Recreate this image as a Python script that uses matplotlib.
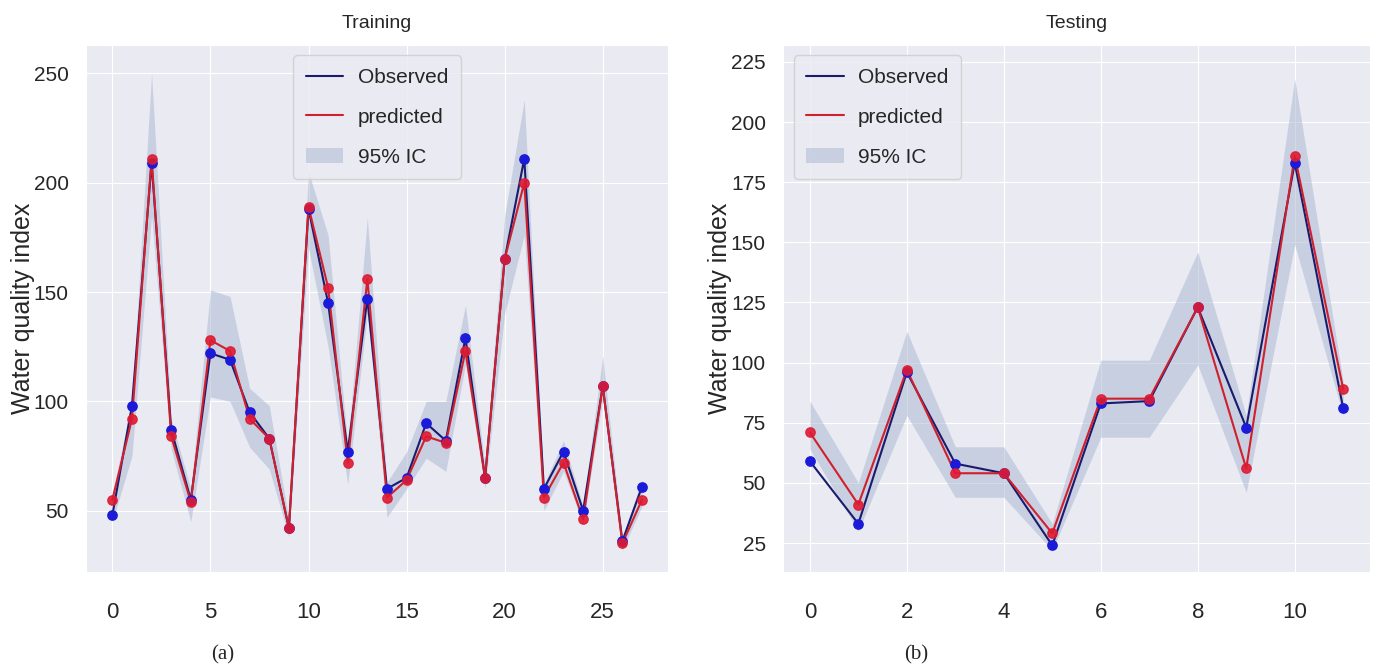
import matplotlib
matplotlib.use('Agg')
import matplotlib.pyplot as plt
import seaborn as sns
import numpy as np

# training set (28 samples)
x_train = np.arange(28)
obs_train = [48, 98, 209, 87, 55, 122, 119, 95, 83, 42, 188, 145, 77, 147,
             60, 65, 90, 82, 129, 65, 165, 211, 60, 77, 50, 107, 36, 61]
pred_train = [55, 92, 211, 84, 54, 128, 123, 92, 83, 42, 189, 152, 72, 156,
              56, 64, 84, 81, 123, 65, 165, 200, 56, 72, 46, 107, 35, 55]
ci_lo_train = [45, 75, 185, 78, 45, 102, 100, 79, 69, 38, 170, 125, 62, 140,
               47, 60, 74, 68, 117, 60, 140, 176, 50, 68, 44, 101, 32, 52]
ci_hi_train = [58, 100, 250, 92, 60, 151, 148, 106, 98, 46, 205, 176, 80, 184,
               63, 77, 100, 100, 144, 70, 185, 238, 62, 82, 52, 121, 38, 64]

# testing set (12 samples)
x_test = np.arange(12)
obs_test = [59, 33, 96, 58, 54, 24, 83, 84, 123, 73, 183, 81]
pred_test = [71, 41, 97, 54, 54, 29, 85, 85, 123, 56, 186, 89]
ci_lo_test = [64, 30, 78, 44, 44, 22, 69, 69, 99, 46, 149, 78]
ci_hi_test = [84, 50, 113, 65, 65, 33, 101, 101, 146, 78, 218, 92]

sns.set_style('darkgrid')
plt.rcParams['font.family'] = ['Liberation Sans', 'DejaVu Sans']

fig = plt.figure(figsize=(13.74, 6.72), dpi=100)
ax1 = fig.add_axes([0.0625, 0.149, 0.424, 0.784])
ax2 = fig.add_axes([0.570, 0.149, 0.427, 0.784])

obs_line = '#1b1b6e'
pred_line = '#d0202e'
obs_dot = '#1a1ad8'
pred_dot = '#de1a32'
band = '#a7b6d0'


def draw(ax, x, obs, pred, lo, hi, title, loc, ylim, yticks):
    ax.fill_between(x, lo, hi, color=band, alpha=0.5, linewidth=0, label='95% IC')
    ax.plot(x, obs, color=obs_line, linewidth=1.5, label='Observed')
    ax.plot(x, pred, color=pred_line, linewidth=1.5, label='predicted')
    ax.scatter(x, obs, s=45, color=obs_dot, zorder=3)
    ax.scatter(x, pred, s=45, color=pred_dot, alpha=0.9, zorder=4)
    ax.set_ylim(ylim)
    ax.set_yticks(yticks)
    ax.set_title(title, fontsize=14, pad=12)
    ax.set_ylabel('Water quality index', fontsize=18)
    ax.yaxis.set_label_coords(-0.087, 0.5)
    ax.tick_params(axis='x', labelsize=16, pad=18)
    ax.tick_params(axis='y', labelsize=15, pad=9)
    h, l = ax.get_legend_handles_labels()
    order = [1, 2, 0]
    ax.legend([h[i] for i in order], [l[i] for i in order], loc=loc, fontsize=15,
              labelspacing=1.0, handlelength=1.8, borderpad=0.6, handletextpad=0.7)


draw(ax1, x_train, obs_train, pred_train, ci_lo_train, ci_hi_train,
     'Training', 'upper center', (22, 263), [50, 100, 150, 200, 250])
ax1.set_xticks([0, 5, 10, 15, 20, 25])
draw(ax2, x_test, obs_test, pred_test, ci_lo_test, ci_hi_test,
     'Testing', 'upper left', (13, 232), [25, 50, 75, 100, 125, 150, 175, 200, 225])
ax2.set_xticks([0, 2, 4, 6, 8, 10])

fig.text(0.162, 0.018, '(a)', fontsize=15, family='Liberation Serif', ha='center')
fig.text(0.667, 0.018, '(b)', fontsize=15, family='Liberation Serif', ha='center')

fig.savefig('out.png', dpi=100)
